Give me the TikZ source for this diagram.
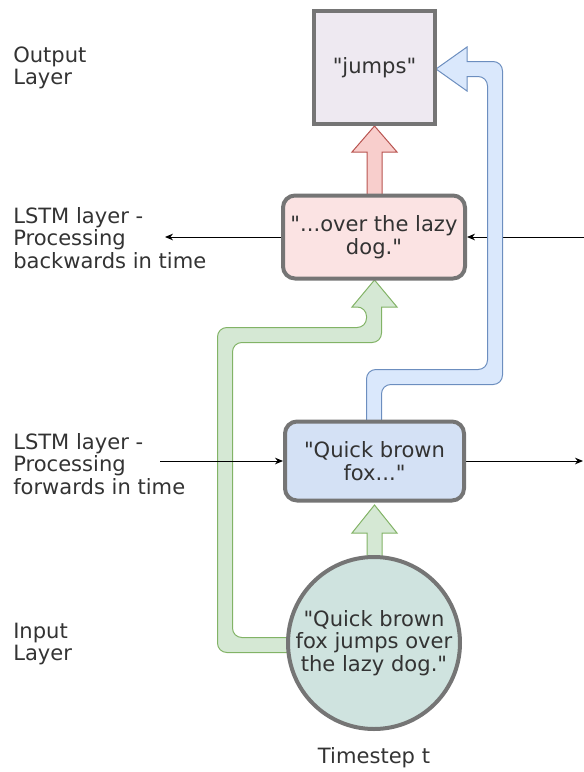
\documentclass[tikz,border=0pt]{standalone}
\usepackage{fontspec}
\setmainfont{DejaVu Sans}
\usetikzlibrary{arrows.meta}

\definecolor{txt}{HTML}{333333}
\definecolor{edge}{HTML}{757575}
\definecolor{outfill}{HTML}{EEE9F1}
\definecolor{bwdfill}{HTML}{FBE3E3}
\definecolor{fwdfill}{HTML}{D4E1F5}
\definecolor{infill}{HTML}{CFE3DF}
\definecolor{redfill}{HTML}{F8CECC}
\definecolor{redline}{HTML}{B85450}
\definecolor{greenfill}{HTML}{D5E8D4}
\definecolor{greenline}{HTML}{82B366}
\definecolor{bluefill}{HTML}{DAE8FC}
\definecolor{blueline}{HTML}{6C8EBF}

\pgfdeclarelayer{greenl}
\pgfdeclarelayer{blackl}
\pgfdeclarelayer{bluel}
\pgfsetlayers{greenl,blackl,bluel,main}

\newcommand{\qt}{\textquotedbl}

\begin{document}
\begin{tikzpicture}[x=0.75pt,y=-0.75pt,>={Stealth[length=6pt,width=5pt]},
  font=\fontsize{15.8}{17}\selectfont,text=txt,
  unit/.style={draw=edge,line width=3pt,rounded corners=9pt,align=center,inner sep=0pt},
  label/.style={anchor=west,align=left,inner sep=0pt},
  fat/.style={line width=0.75pt}]
\useasboundingbox (0,0) rectangle (584,772);

% layer names
\node[label] (outlbl) at (13,68){Output\\Layer};
\node[label] (bwdlbl) at (13,238){LSTM layer -\\Processing\\backwards in time};
\node[label] (fwdlbl) at (13,464){LSTM layer -\\Processing\\forwards in time};
\node[label] (inlbl) at (13,644){Input\\Layer};
\node (step) at (374,758){Timestep t};

% units
\node[unit,fill=outfill,rounded corners=0pt,minimum width=90.75pt,minimum height=84.75pt] (out) at (374.5,67.5){\qt jumps\qt};
\node[unit,fill=bwdfill,minimum width=136.5pt,minimum height=62.25pt] (bwd) at (374,237){\qt...over the lazy\\dog.\qt};
\node[unit,fill=fwdfill,minimum width=134.25pt,minimum height=59.25pt] (fwd) at (374.5,461){\qt Quick brown\\fox...\qt};
\node[unit,circle,fill=infill,minimum size=129pt] (in) at (374,643){\qt Quick brown\\fox jumps over\\the lazy dog.\qt};

% fat arrows
\begin{pgfonlayer}{greenl}
\draw[fat,draw=greenline,fill=greenfill] (305,652.5) [rounded corners=7] -- (217.5,652.5) -- (217.5,327.5) -- (366.5,327.5) -- (366.5,307) [sharp corners] -- (352,307) -- (374.5,280) -- (397,307) -- (381.5,307) [rounded corners=7] -- (381.5,342.5) -- (232.5,342.5) -- (232.5,637.5) -- (305,637.5) [sharp corners] -- cycle;
\draw[fat,draw=greenline,fill=greenfill] (367,580) -- (367,533) -- (352,533) -- (374.5,505) -- (397,533) -- (382,533) -- (382,580) -- cycle;
\draw[fat,draw=redline,fill=redfill] (367,210) -- (367,152) -- (352,152) -- (374.5,126) -- (397,152) -- (382,152) -- (382,210) -- cycle;
\end{pgfonlayer}
\begin{pgfonlayer}{bluel}
\draw[fat,draw=blueline,fill=bluefill] (366.5,440) [rounded corners=7] -- (366.5,369.5) -- (487.5,369.5) -- (487.5,76.5) [sharp corners] -- (467,76.5) -- (467,91) -- (436,69) -- (467,47) -- (467,61.5) [rounded corners=7] -- (502.5,61.5) -- (502.5,384.5) -- (381.5,384.5) -- (381.5,440) [sharp corners] -- cycle;
\end{pgfonlayer}

% connections in time
\coordinate (fwdin) at (160,461);
\coordinate (fwdout) at (583,461);
\coordinate (bwdin) at (584,237);
\coordinate (bwdout) at (165,237);
\begin{pgfonlayer}{blackl}
\draw[->,line width=0.75pt] (fwdin) -- (fwd.west);
\draw[->,line width=0.75pt] (fwd.east) -- (fwdout);
\draw[->,line width=0.75pt] (bwdin) -- (bwd.east);
\draw[->,line width=0.75pt] (bwd.west) -- (bwdout);
\end{pgfonlayer}
\end{tikzpicture}
\end{document}
